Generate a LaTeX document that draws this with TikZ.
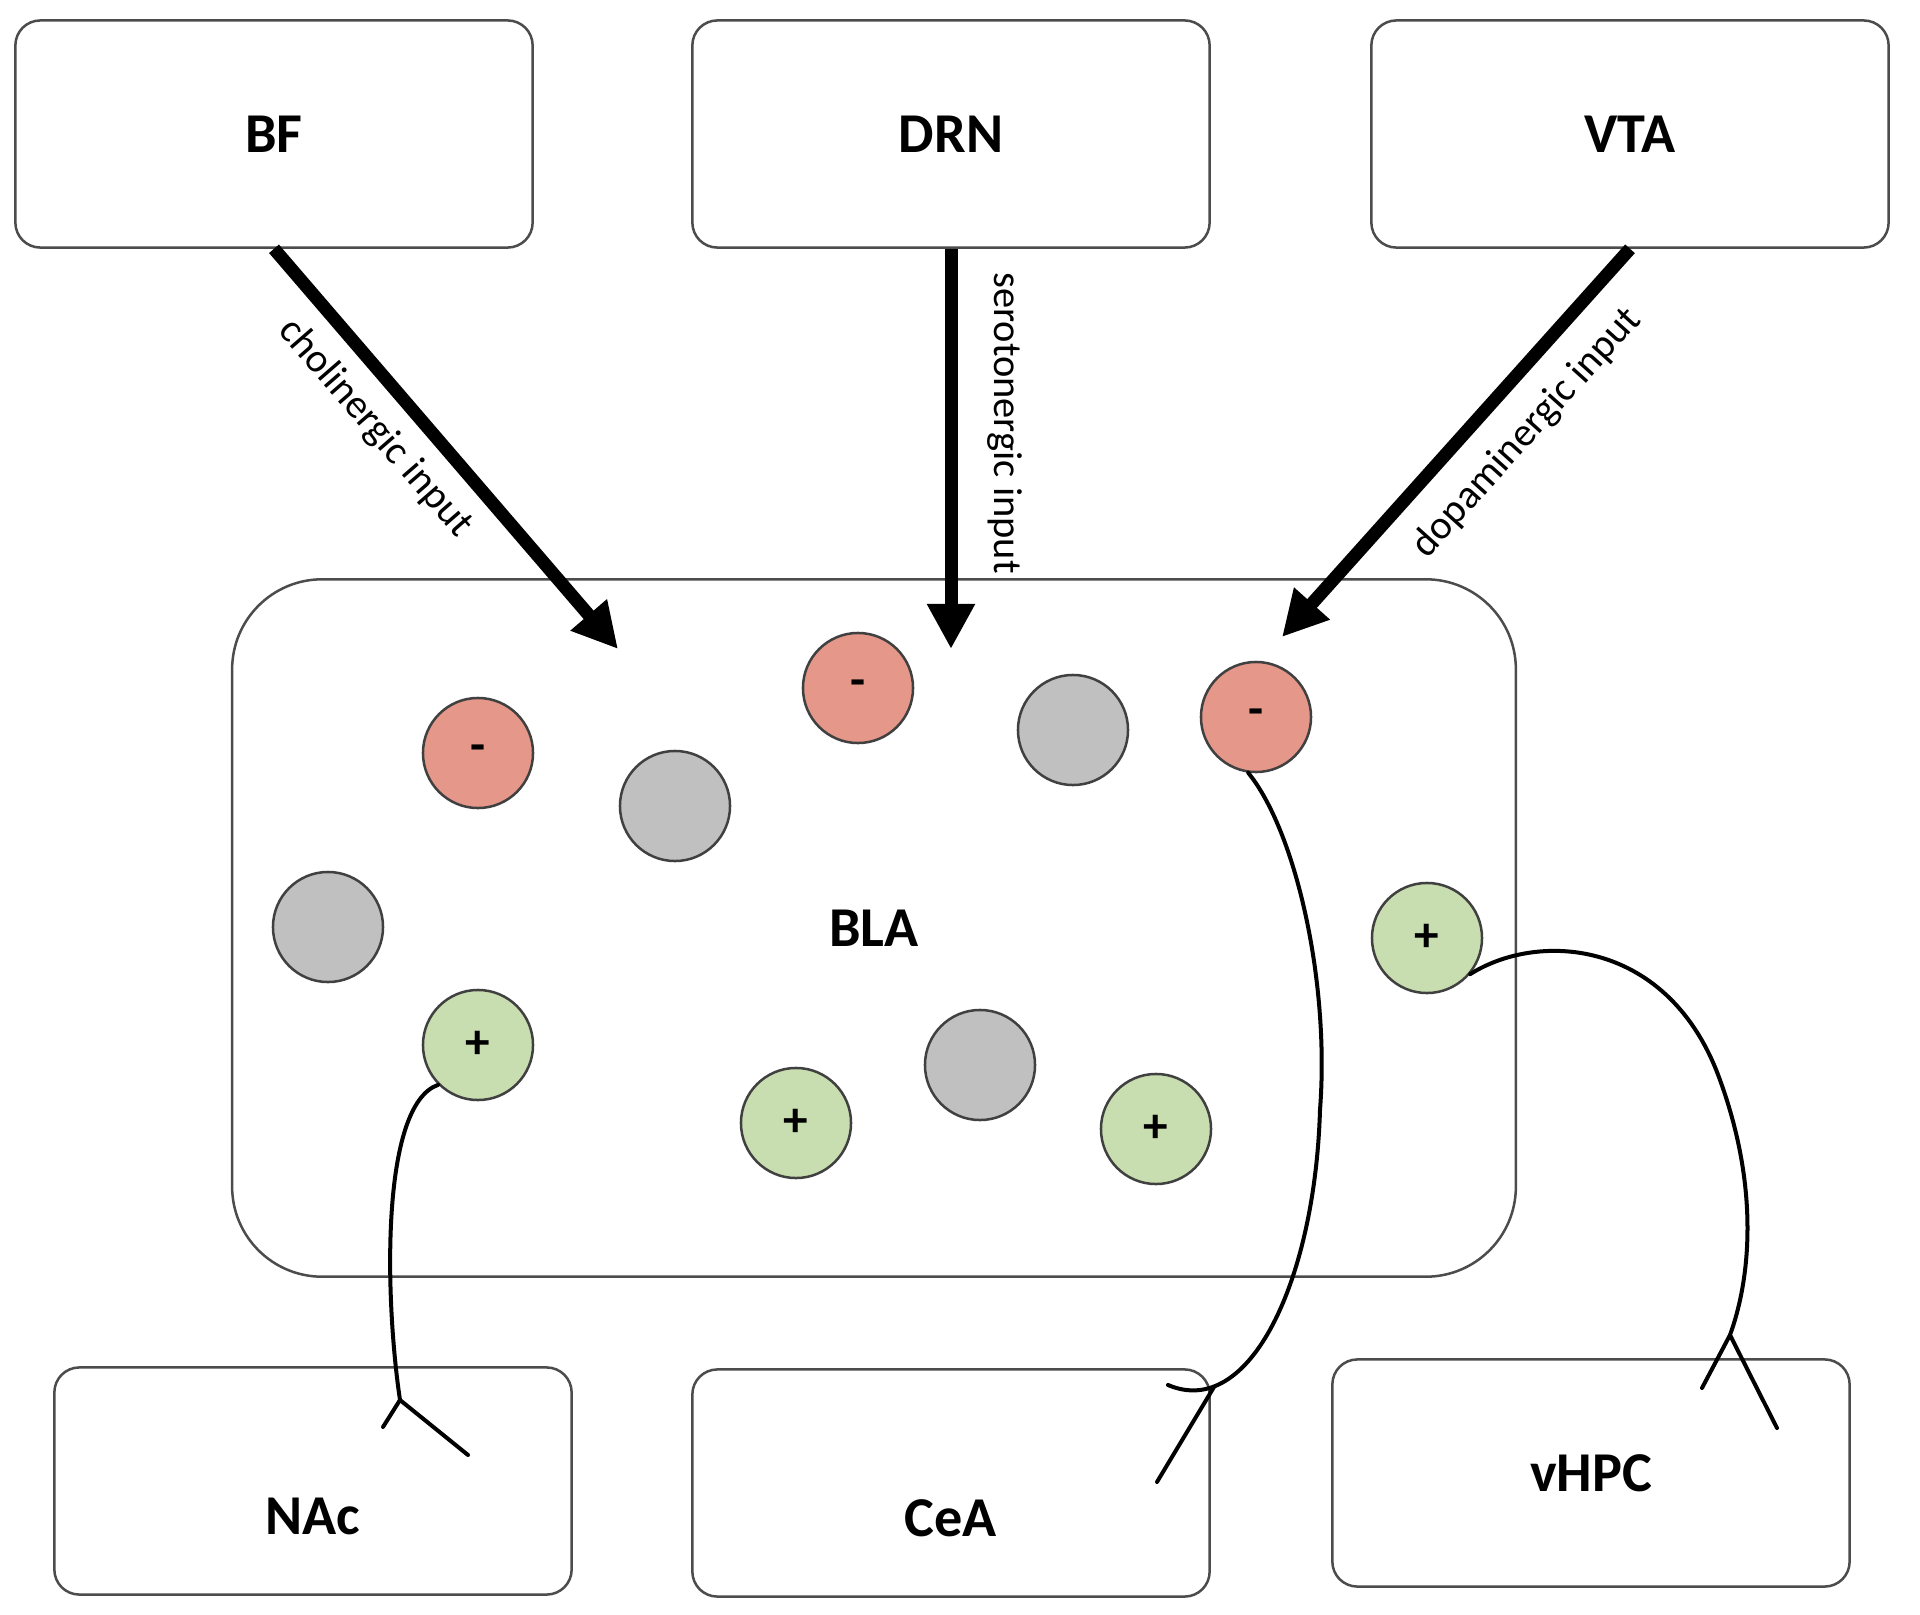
\documentclass[tikz,border=0pt]{standalone}
\usepackage{fontspec}
\setmainfont{Carlito}
\usetikzlibrary{arrows.meta}
\definecolor{inhred}{RGB}{229,152,138}
\definecolor{excgreen}{RGB}{201,222,176}
\definecolor{neugray}{RGB}{192,192,192}

\begin{document}
\begin{tikzpicture}[x=0.01cm, y=-0.01cm,
		boxlabel/.style={font=\bfseries\fontsize{16}{19}\selectfont},
		region/.style={boxlabel, draw=black!70, line width=0.25mm, rounded corners=0.25cm, minimum width=5.17cm, minimum height=2.27cm, inner sep=0pt},
		cell/.style={circle, draw=black!75, line width=0.25mm, minimum size=1.1cm, inner sep=0pt, font=\bfseries\fontsize{14}{16}\selectfont},
		input/.style={line width=1.3mm, -{Triangle[length=0.45cm, width=0.45cm]}},
		inlabel/.style={font=\fontsize{11.5}{13}\selectfont, inner sep=0pt},
		axon/.style={line width=0.4mm, line cap=round}]
			%%%%% START %%%%%
			\useasboundingbox (0,0) rectangle (1920,1615);
			
			\node[region] (BF) at (274,134) {BF};
			\node[region] (DRN) at (951,134) {DRN};
			\node[region] (VTA) at (1630,134) {VTA};
			
			\node[region, minimum width=12.83cm, minimum height=6.97cm, rounded corners=0.9cm] (BLA) at (874,928) {BLA};
			
			\node[region] (NAc) at (313,1481) {};
			\node[boxlabel] (NAcText) at (313,1516) {NAc};
			\node[region] (CeA) at (951,1483) {};
			\node[boxlabel] (CeAText) at (951,1518) {CeA};
			\node[region] (vHPC) at (1591,1473) {vHPC};
			
			\node[cell, fill=inhred] (inh1) at (478,753) {-};
			\node[cell, fill=neugray] (neu1) at (675,806) {};
			\node[cell, fill=inhred] (inh2) at (858,688) {-};
			\node[cell, fill=neugray] (neu2) at (1073,730) {};
			\node[cell, fill=inhred] (inh3) at (1256,717) {-};
			\node[cell, fill=neugray] (neu3) at (328,927) {};
			\node[cell, fill=excgreen] (exc1) at (478,1045) {+};
			\node[cell, fill=excgreen] (exc2) at (796,1123) {+};
			\node[cell, fill=neugray] (neu4) at (980,1065) {};
			\node[cell, fill=excgreen] (exc3) at (1156,1129) {+};
			\node[cell, fill=excgreen] (exc4) at (1427,938) {+};
			
			\coordinate (BFtip) at (618,649);
			\coordinate (DRNtip) at (951,649);
			\coordinate (VTAtip) at (1282,637);
			\draw[input] (BF.south) -- (BFtip);
			\draw[input] (DRN.south) -- (DRNtip);
			\draw[input] (VTA.south) -- (VTAtip);
			
			\node[inlabel, rotate=-49] (cholLabel) at (375,428) {cholinergic input};
			\node[inlabel, rotate=-90] (seroLabel) at (1005,423) {serotonergic input};
			\node[inlabel, rotate=48] (dopaLabel) at (1527,433) {dopaminergic input};
			
			\coordinate (NAcJ) at (400,1400);
			\coordinate (NAcL) at (383,1427);
			\coordinate (NAcR) at (468,1455);
			\draw[axon] (exc1.225) .. controls (380,1105) and (385,1300) .. (NAcJ) -- (NAcL);
			\draw[axon] (NAcJ) -- (NAcR);
			
			\coordinate (CeAJ) at (1214,1387);
			\coordinate (CeAEnd) at (1168,1385);
			\coordinate (CeAR) at (1157,1482);
			\draw[axon] (inh3.262) .. controls (1295,830) and (1330,980) .. (1320,1110) .. controls (1315,1280) and (1250,1420) .. (CeAEnd);
			\draw[axon] (CeAJ) -- (CeAR);
			
			\coordinate (vHPCJ) at (1730,1335);
			\coordinate (vHPCL) at (1702,1388);
			\coordinate (vHPCR) at (1777,1428);
			\draw[axon] (exc4.320) .. controls (1540,930) and (1670,940) .. (1720,1080) .. controls (1760,1190) and (1750,1280) .. (vHPCJ) -- (vHPCL);
			\draw[axon] (vHPCJ) -- (vHPCR);
			
			%%%%% END %%%%%
		\end{tikzpicture}
\end{document}
